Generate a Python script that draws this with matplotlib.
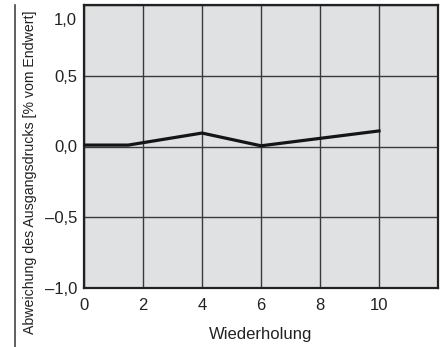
import matplotlib.pyplot as plt
import matplotlib.transforms as mtransforms
from matplotlib.lines import Line2D

# data
wiederholung = [0, 1.5, 4, 6, 10]
abweichung = [0.01, 0.01, 0.095, 0.005, 0.11]
x_ticks = [0, 2, 4, 6, 8, 10]
y_ticks = [-1.0, -0.5, 0.0, 0.5, 1.0]
y_tick_labels = ['\u20131,0', '\u20130,5', '0,0', '0,5', '1,0']

plt.rcParams['font.family'] = ['Liberation Sans', 'DejaVu Sans']

fig = plt.figure(figsize=(4.45, 3.47), dpi=100)
W, H = 445, 347
ax = fig.add_axes([84 / W, 1 - 288 / H, (438 - 84) / W, (288 - 5) / H])
ax.set_facecolor('#e0e1e3')

ax.plot(wiederholung, abweichung, color='#151515', lw=2.3, zorder=3)

ax.set_xlim(0, 12)
ax.set_ylim(-1.0, 1.0)
ax.set_xticks(x_ticks)
ax.set_yticks(y_ticks)
ax.set_yticklabels(y_tick_labels)
ax.grid(True, color='#3a3a3a', lw=1.0)
ax.tick_params(length=0, labelsize=12, colors='#222222')
ax.tick_params(axis='x', pad=7)
ax.tick_params(axis='y', pad=5)
for s in ax.spines.values():
    s.set_linewidth(1.6)
    s.set_color('#222222')

# top label sits just below the frame, as in the reference
top_lbl = ax.get_yticklabels()[-1]
top_lbl.set_transform(top_lbl.get_transform() +
                      mtransforms.ScaledTranslation(0, -0.14, fig.dpi_scale_trans))

ax.set_xlabel('Wiederholung', fontsize=12, color='#222222', labelpad=10)
fig.text(30 / W, 1 - 172 / H, 'Abweichung des Ausgangsdrucks [% vom Endwert]',
         rotation=90, ha='center', va='center', fontsize=10.2,
         color='#222222')

# outer frame (left side)
fig.add_artist(Line2D([15 / W, 15 / W], [0, 1 - 5 / H], transform=fig.transFigure,
                      color='#444444', lw=1.2))

fig.savefig('out.png', dpi=100)
